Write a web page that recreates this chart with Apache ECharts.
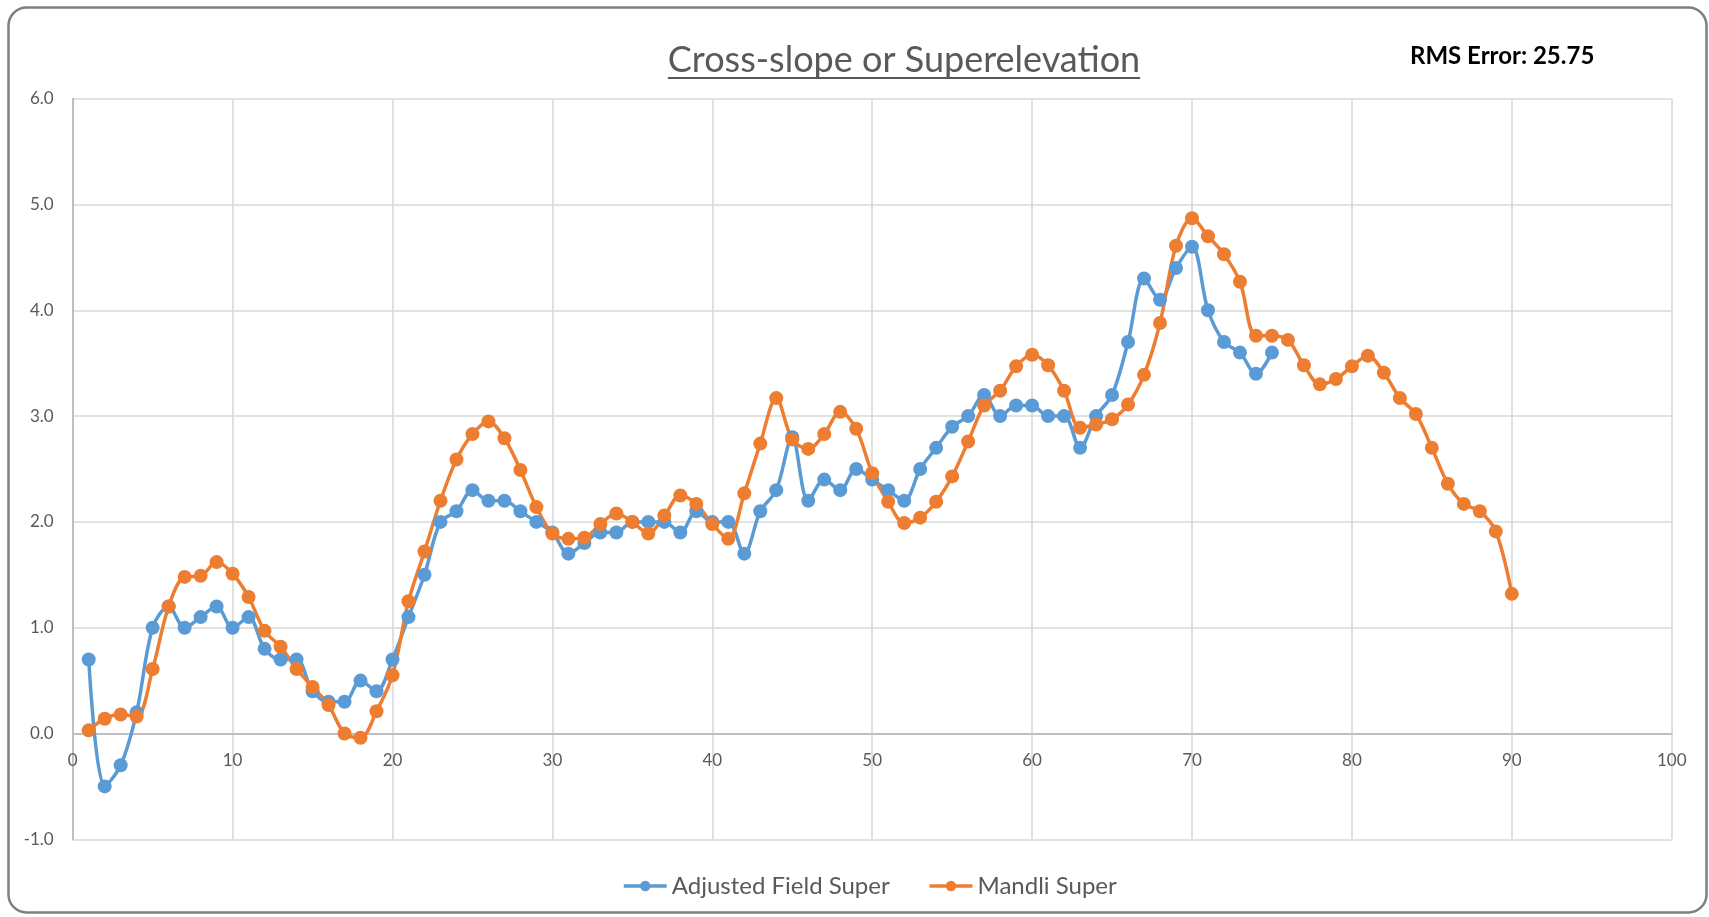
<!DOCTYPE html>
<html>
<head>
<meta charset="utf-8">
<script src="https://cdn.jsdelivr.net/npm/echarts@6/dist/echarts.min.js"></script>
<style>
html,body{margin:0;padding:0;background:#fff;}
#chart{width:1709px;height:917px;}
</style>
</head>
<body>
<div id="chart"></div>
<script>
// ---- data ----
var titleText = 'Cross-slope or Superelevation';
var rmsText = 'RMS Error: 25.75';
var seriesNames = ['Adjusted Field Super', 'Mandli Super'];
var xTicks = [0, 10, 20, 30, 40, 50, 60, 70, 80, 90, 100];
var yTicks = [-1.0, 0.0, 1.0, 2.0, 3.0, 4.0, 5.0, 6.0];

var adjustedX = [];
for (var i = 1; i <= 75; i++) adjustedX.push(i);
var adjustedField = [
  0.7, -0.5, -0.3, 0.2, 1.0, 1.2, 1.0, 1.1, 1.2, 1.0,
  1.1, 0.8, 0.7, 0.7, 0.4, 0.3, 0.3, 0.5, 0.4, 0.7,
  1.1, 1.5, 2.0, 2.1, 2.3, 2.2, 2.2, 2.1, 2.0, 1.9,
  1.7, 1.8, 1.9, 1.9, 2.0, 2.0, 2.0, 1.9, 2.1, 2.0,
  2.0, 1.7, 2.1, 2.3, 2.8, 2.2, 2.4, 2.3, 2.5, 2.4,
  2.3, 2.2, 2.5, 2.7, 2.9, 3.0, 3.2, 3.0, 3.1, 3.1,
  3.0, 3.0, 2.7, 3.0, 3.2, 3.7, 4.3, 4.1, 4.4, 4.6,
  4.0, 3.7, 3.6, 3.4, 3.6
];

var mandliX = [];
for (var j = 1; j <= 90; j++) mandliX.push(j);
var mandli = [
  0.03, 0.14, 0.18, 0.16, 0.61, 1.20, 1.48, 1.49, 1.62, 1.51,
  1.29, 0.97, 0.82, 0.61, 0.44, 0.27, 0.00, -0.04, 0.21, 0.55,
  1.25, 1.72, 2.20, 2.59, 2.83, 2.95, 2.79, 2.49, 2.14, 1.89,
  1.84, 1.85, 1.98, 2.08, 2.00, 1.89, 2.06, 2.25, 2.17, 1.98,
  1.84, 2.27, 2.74, 3.17, 2.78, 2.69, 2.83, 3.04, 2.88, 2.46,
  2.19, 1.99, 2.04, 2.19, 2.43, 2.76, 3.10, 3.24, 3.47, 3.58,
  3.48, 3.24, 2.89, 2.92, 2.97, 3.11, 3.39, 3.88, 4.61, 4.87,
  4.70, 4.53, 4.27, 3.76, 3.76, 3.72, 3.48, 3.30, 3.35, 3.47,
  3.57, 3.41, 3.17, 3.02, 2.70, 2.36, 2.17, 2.10, 1.91, 1.32
];

function pairs(xs, ys) { return xs.map(function (x, k) { return [x, ys[k]]; }); }

var FONT = 'Lato, "Open Sans", sans-serif';
var TEXT = '#595959';

// layout
var W = 1709, H = 917;
var gridTop = 98.7, gridBottom = 77.7;
var yMin = yTicks[0], yMax = yTicks[yTicks.length - 1];
var plotH = H - gridTop - gridBottom;
// put the horizontal axis (line + labels) where y = 0 crosses, as in the original
var xAxisOffset = -plotH * (0 - yMin) / (yMax - yMin);

// measure title width for underline
var cvs = document.createElement('canvas').getContext('2d');
var titleSize = 36;
cvs.font = titleSize + 'px ' + FONT;
var titleW = cvs.measureText(titleText).width;
var titleCX = 904;

var lineStyleFor = function (c) { return {width: 3.5, color: c}; };

var chart = echarts.init(document.getElementById('chart'), null, {renderer: 'canvas'});
chart.setOption({
  backgroundColor: '#ffffff',
  animation: false,
  color: ['#5B9BD5', '#ED7D31'],
  graphic: [
    {
      type: 'rect', silent: true, z: -1,
      shape: {x: 8.5, y: 7.5, width: 1698, height: 905, r: 18},
      style: {fill: '#ffffff', stroke: '#7f7f7f', lineWidth: 2.5}
    },
    {
      type: 'text', left: titleCX - titleW / 2, top: 42,
      style: {text: titleText, font: titleSize + 'px ' + FONT, fill: TEXT}
    },
    {
      type: 'line', silent: true,
      shape: {x1: titleCX - titleW / 2, y1: 78, x2: titleCX + titleW / 2, y2: 78},
      style: {stroke: TEXT, lineWidth: 2}
    },
    {
      type: 'text', left: 1410, top: 44,
      style: {text: rmsText, font: 'bold 24px ' + FONT, fill: '#000000'}
    }
  ],
  grid: {left: 72.7, right: 37.3, top: gridTop, bottom: gridBottom, containLabel: false},
  legend: {
    data: seriesNames,
    left: 617,
    top: 869,
    itemWidth: 43,
    itemHeight: 13,
    itemGap: 38,
    lineStyle: {width: 3.5},
    textStyle: {fontFamily: FONT, fontSize: 24, color: TEXT}
  },
  xAxis: {
    type: 'value',
    position: 'bottom',
    offset: xAxisOffset,
    min: xTicks[0], max: xTicks[xTicks.length - 1], interval: 10,
    axisLine: {show: true, onZero: false, lineStyle: {color: '#BFBFBF', width: 2}},
    axisTick: {show: false},
    axisLabel: {fontFamily: FONT, fontSize: 17, color: TEXT, margin: 19},
    splitLine: {show: true, lineStyle: {color: '#D9D9D9', width: 1.6}}
  },
  yAxis: {
    type: 'value',
    min: yMin, max: yMax, interval: 1,
    axisLine: {show: true, lineStyle: {color: '#BFBFBF', width: 2}},
    axisTick: {show: false},
    axisLabel: {fontFamily: FONT, fontSize: 17, color: TEXT, margin: 19,
      formatter: function (v) { return v.toFixed(1); }},
    splitLine: {show: true, lineStyle: {color: '#D9D9D9', width: 1.6}}
  },
  series: [
    {
      name: seriesNames[0], type: 'line', data: pairs(adjustedX, adjustedField),
      smooth: 0.33, symbol: 'circle', symbolSize: 14, showAllSymbol: true,
      lineStyle: lineStyleFor('#5B9BD5'),
      itemStyle: {color: '#5B9BD5', borderWidth: 0}
    },
    {
      name: seriesNames[1], type: 'line', data: pairs(mandliX, mandli),
      smooth: 0.33, symbol: 'circle', symbolSize: 14, showAllSymbol: true,
      lineStyle: lineStyleFor('#ED7D31'),
      itemStyle: {color: '#ED7D31', borderWidth: 0}
    }
  ]
});
</script>
</body>
</html>
